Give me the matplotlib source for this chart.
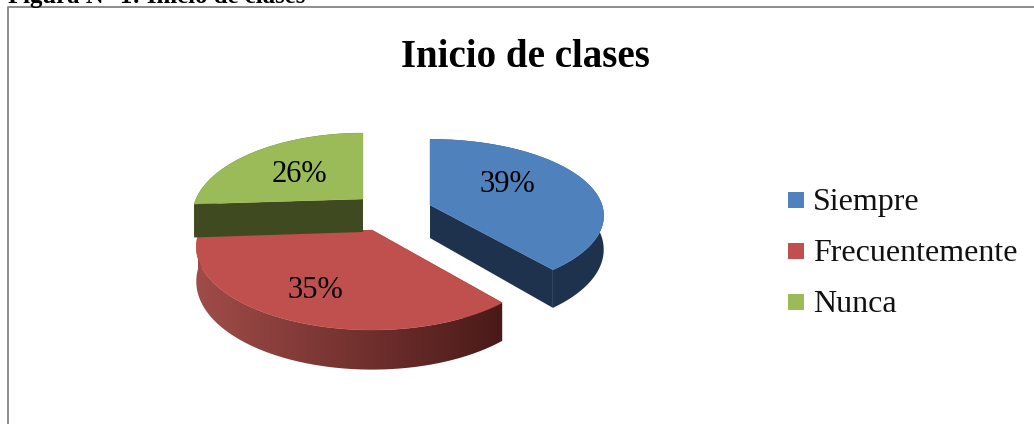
import numpy as np
import matplotlib
matplotlib.use("Agg")
import matplotlib.pyplot as plt
from matplotlib.patches import Polygon, Rectangle
from matplotlib.colors import LinearSegmentedColormap

categories = ["Siempre", "Frecuentemente", "Nunca"]
values = [39, 35, 26]
value_labels = ["39%", "35%", "26%"]
colors = ["#4F81BD", "#C0504D", "#9BBB59"]
side_colors = ["#1E324E", "#A04C49", "#3F4A20"]
side_end = "#4A1A18"

# pie apex of each slice, in pixels
apex = [(430, 205), (372, 230), (363, 199)]
label_pos = [(507.5, 192), (315, 298), (299, 182)]
legend_y = [200, 251, 302]

# the original is a 3D pie, each exploded slice gets its own perspective
slice_rx = [172, 172, 167]
slice_ry = [75, 79.5, 79.5]
slice_k = [0.14, 0.205, 0.205]
DEPTH = 33

plt.rcParams["font.family"] = ["Liberation Serif", "DejaVu Serif"]


def project(theta, i, r=1.0, drop=0.0):
    # theta clockwise from 12 o'clock
    cx, cy = apex[i]
    u, v = r * np.sin(theta), -r * np.cos(theta)
    s = 1 / (1 - slice_k[i] * v)
    return cx + slice_rx[i] * u * s, cy + slice_ry[i] * v * s + drop * (1 + 0.2 * v)


fig = plt.figure(figsize=(10.34, 4.24), dpi=100)
ax = fig.add_axes([0, 0, 1, 1])
ax.axis("off")

# chart frame
ax.plot([8, 8, 1040], [430, 7, 7], color="#8C8C8C", lw=1.4, zorder=1)

fractions = np.cumsum([0] + values) / sum(values) * 2 * np.pi
# draw far to near so the red slice sits on top of the green one
for i in [2, 0, 1]:
    cx, cy = apex[i]
    t = np.linspace(fractions[i], fractions[i + 1], 160)
    px, py = project(t, i)
    bx, by = project(t, i, drop=DEPTH)
    _, low = project(np.array([0.0]), i, r=0, drop=DEPTH)

    # inner walls
    for end in (0, -1):
        wall = [(cx, cy), (px[end], py[end]), (bx[end], by[end]), (cx, low[0])]
        ax.add_patch(Polygon(wall, fc=side_colors[i] if i != 1 else side_end, ec="none", zorder=2 + i))

    # outer wall, red one fades towards the right
    outer = Polygon(list(zip(px, py)) + list(zip(bx[::-1], by[::-1])), fc=side_colors[i], ec="none", zorder=2 + i)
    ax.add_patch(outer)
    if i == 1:
        outer.set_visible(False)
        cmap = LinearSegmentedColormap.from_list("red_side", [side_colors[1], side_end])
        im = ax.imshow(np.linspace(0, 1, 256)[None, :], cmap=cmap, aspect="auto",
                       extent=(px.min(), px.max(), by.max(), py.min()), zorder=2 + i)
        im.set_clip_path(outer)

    top = [(cx, cy)] + list(zip(px, py))
    ax.add_patch(Polygon(top, fc=colors[i], ec=colors[i], lw=0.3, zorder=2.5 + i))

for lab, (x, y) in zip(value_labels, label_pos):
    ax.text(x, y, lab, fontsize=22, color="black", ha="center", va="baseline", zorder=10)

ax.text(525, 67, "Inicio de clases", fontsize=28, fontweight="bold", ha="center", va="baseline")
ax.text(8, 3, "Figura N° 1: Inicio de clases", fontsize=17.8, fontweight="bold", ha="left", va="baseline")

for name, col, y in zip(categories, colors, legend_y):
    ax.add_patch(Rectangle((788, y - 8), 16, 16, fc=col, ec="none"))
    ax.text(813, y + 10, name, fontsize=23, color="#111111", ha="left", va="baseline")

ax.set_xlim(0, 1034)
ax.set_ylim(424, 0)
fig.savefig("out.png", dpi=100)
